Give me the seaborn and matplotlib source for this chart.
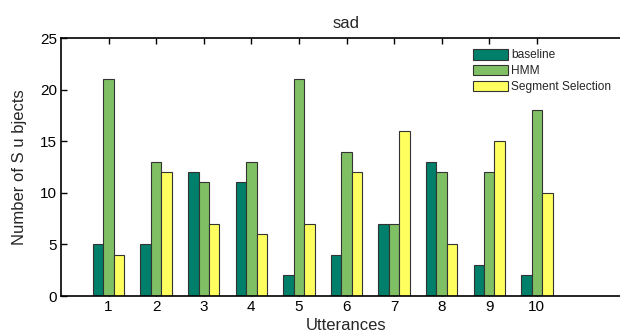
import matplotlib
matplotlib.use("Agg")
import matplotlib.pyplot as plt
import seaborn as sns
import pandas as pd

utterances = [1, 2, 3, 4, 5, 6, 7, 8, 9, 10]
baseline = [5, 5, 12, 11, 2, 4, 7, 13, 3, 2]
hmm = [21, 13, 11, 13, 21, 14, 7, 12, 12, 18]
segment = [4, 12, 7, 6, 7, 12, 16, 5, 15, 10]
series_names = ["baseline", "HMM", "Segment Selection"]
colors = ["#00806a", "#80c064", "#ffff60"]

sns.set_theme(style="ticks")
plt.rcParams['font.family'] = ['Liberation Sans', 'DejaVu Sans']

rows = []
for name, vals in zip(series_names, [baseline, hmm, segment]):
    for u, v in zip(utterances, vals):
        rows.append({"Utterance": u, "Count": v, "Method": name})
df = pd.DataFrame(rows)

fig = plt.figure(figsize=(6.2, 3.36), dpi=100)
ax = fig.add_axes([61/620, 1 - 296/336, 571/620, (296 - 38)/336])

sns.barplot(data=df, x="Utterance", y="Count", hue="Method", native_scale=True,
            palette=colors, width=0.66, edgecolor="#333333", linewidth=0.8,
            saturation=1, ax=ax)

ax.set_xlim(0, 12)
ax.set_ylim(0, 25)
ax.set_xticks(utterances)
ax.set_xticklabels([str(u) for u in utterances])
ax.set_yticks([0, 5, 10, 15, 20, 25])
ax.tick_params(direction="in", length=4, width=1, labelsize=11, colors="black",
               top=True, right=True, pad=3)
for s in ax.spines.values():
    s.set_color("black")
    s.set_linewidth(1.2)
ax.set_title("sad", fontsize=12, pad=7)
ax.set_xlabel("Utterances", fontsize=12, labelpad=3)
ax.set_ylabel("Number of S u bjects", fontsize=12, labelpad=9)

leg = ax.legend(loc="upper left", bbox_to_anchor=(0.714, 0.975), frameon=False,
                fontsize=8.6, handlelength=2.9, handleheight=0.95,
                handletextpad=0.25, labelspacing=0.3, borderaxespad=0)

fig.savefig("out.png", dpi=100)
